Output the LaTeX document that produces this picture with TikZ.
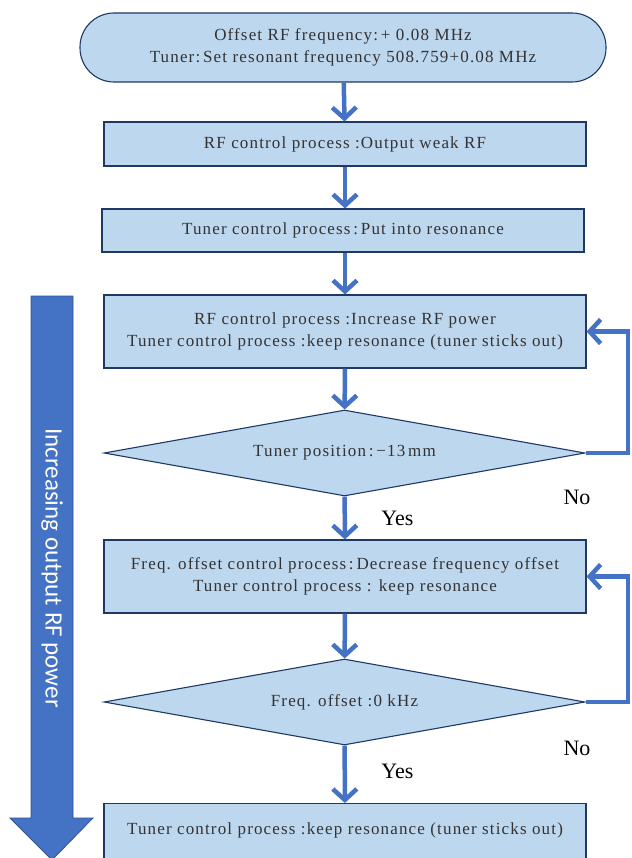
\documentclass[tikz,border=0pt]{standalone}
\usepackage{fontspec}
\setmainfont{Liberation Serif}
\newfontfamily\boxfont{Liberation Serif}[LetterSpace=6.8]
\newfontfamily\labelfont{Carlito}
\usetikzlibrary{calc}
\usetikzlibrary{positioning}
\usetikzlibrary{shapes.geometric}
\usetikzlibrary{arrows.meta}
\definecolor{boxfill}{HTML}{BDD7EE}
\definecolor{boxline}{HTML}{1F3864}
\definecolor{flowblue}{HTML}{4472C4}
\definecolor{bigline}{HTML}{2F528F}

\begin{document}
\begin{tikzpicture}[x=1pt, y=-1pt,
    stepbox/.style={rectangle, minimum width=482pt, fill=boxfill, draw=boxline, line width=1.1pt, text centered, align=center, font=\boxfont\fontsize{17}{22}\selectfont, text=black!80},
    choice/.style={diamond, aspect=5.6, minimum width=481pt, minimum height=86pt, inner sep=0pt, fill=boxfill, draw=boxline, line width=1.1pt, font=\boxfont\fontsize{17}{22}\selectfont, text=black!80},
    flow/.style={draw=flowblue, line width=4.5pt, -{Straight Barb[length=11pt, width=24pt, line width=4.5pt]}},
    answer/.style={font=\fontsize{22}{24}\selectfont}]
    \useasboundingbox (0,0) rectangle (631,858);

    \node [rectangle, rounded corners=34pt, minimum width=526pt, minimum height=69pt, fill=boxfill, draw=boxline, line width=1.1pt, align=center, font=\boxfont\fontsize{17}{22}\selectfont, text=black!80] (offset) at (343,47.5) {Offset RF frequency:\,+ 0.08 MHz\\Tuner:\,Set resonant frequency 508.759+0.08 MHz};
    \node [stepbox, minimum height=44pt] (weakrf) at (345,144) {RF control process :Output weak RF};
    \node [stepbox, minimum height=43pt] (resonance) at (343,230.5) {Tuner control process\,:\,Put into resonance};
    \node [stepbox, minimum height=73pt] (increase) at (345,331.5) {RF control process :Increase RF power\\Tuner control process :keep resonance (tuner sticks out)};
    \node [choice] (position) at (344.5,453) {Tuner position\,:\,−13\,mm};
    \node [stepbox, minimum height=73pt] (decrease) at (345,576.5) {Freq. offset control process\,:\,Decrease frequency offset\\Tuner control process : keep resonance};
    \node [choice] (zerofreq) at (344.5,702) {Freq. offset :0 kHz};
    \node [stepbox, minimum height=73pt, anchor=north] (keep) at (345,803) {Tuner control process :keep resonance (tuner sticks out)\\\mbox{}};

    \draw [flow] (offset) -- (weakrf);
    \draw [flow] (weakrf) -- (resonance.north -| weakrf);
    \draw [flow] (resonance.south -| increase) -- (increase);
    \draw [flow] (increase) -- (position);
    \draw [flow] (position) -- (decrease) node [answer, pos=0.5, right=31pt] (yesone) {Yes};
    \draw [flow] (decrease) -- (zerofreq);
    \draw [flow] (zerofreq) -- (keep) node [answer, pos=0.45, right=31pt] (yestwo) {Yes};

    \draw [flow] (position.east) -- (628,453) |- (increase.east);
    \draw [flow] (zerofreq.east) -- (628,702) |- (decrease.east);
    \node [answer] (noone) at (577,497) {No};
    \node [answer] (notwo) at (577,748) {No};

    \filldraw [fill=flowblue, draw=bigline, line width=0.8pt] (31,296) -- (73,296) -- (73,818) -- (93,818) -- (52,860) -- (10,818) -- (31,818) -- cycle;
    \node [rotate=-90, text=white, font=\labelfont\fontsize{25}{27}\selectfont] (powerlabel) at (52,568) {Increasing output RF power};
\end{tikzpicture}
\end{document}
